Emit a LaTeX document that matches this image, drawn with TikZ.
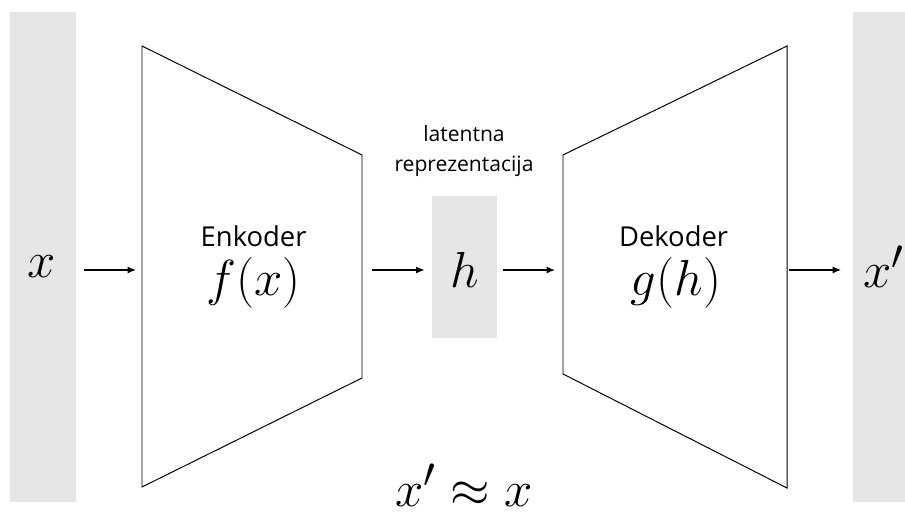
\documentclass[tikz,border=0pt]{standalone}
\usepackage{fontspec}
\setmainfont{Open Sans}
\usetikzlibrary{arrows.meta}
\definecolor{bargray}{HTML}{E6E6E6}
\tikzset{
  databar/.style={fill=bargray, draw=none},
  coder/.style={draw=black, line width=0.7pt, line join=miter},
  flow/.style={draw=black, line width=0.9pt, -{Latex[length=6pt,width=5pt]}},
  coderlabel/.style={font=\fontsize{19.5}{23}\selectfont},
  mathlabel/.style={font=\Huge, scale=1.45},
  latentlabel/.style={font=\fontsize{15}{22}\selectfont, align=center},
}

\begin{document}
\begin{tikzpicture}
\useasboundingbox (0,0) rectangle (22.625,12.875);
% input and output bars
\fill[databar] (0.25,0.325) rectangle (1.9,12.575);
\fill[databar] (21.325,0.325) rectangle (22.625,12.575);
\fill[databar] (10.8,4.425) rectangle (12.425,7.975);
% encoder and decoder
\draw[coder] (3.55,11.725) -- (9.05,9.0) -- (9.05,3.425) -- (3.55,0.7) -- cycle;
\draw[coder] (14.075,9.0) -- (19.675,11.725) -- (19.675,0.675) -- (14.075,3.525) -- cycle;
\coordinate (encin) at (3.55,6.125);
\coordinate (encout) at (9.05,6.125);
\coordinate (decin) at (14.075,6.125);
\coordinate (decout) at (19.675,6.125);
% labels
\node[mathlabel] (x) at (1.05,6.21) {$x$};
\node[mathlabel] (xp) at (22.1,6.21) {$x'$};
\node[mathlabel, inner sep=0pt, minimum width=1.12cm] (h) at (11.6125,6.125) {$h$};
\node[latentlabel] (lat) at (11.6,9.1) {latentna\\reprezentacija};
\node[coderlabel] (enc) at (6.34,6.96) {Enkoder};
\node[mathlabel] (f) at (6.34,5.81) {$f(x)$};
\node[coderlabel] (dec) at (16.84,6.96) {Dekoder};
\node[mathlabel] (g) at (16.9,5.81) {$g(h)$};
\node[mathlabel, inner sep=0pt, anchor=base] (approx) at (11.6,0.22) {$x'\approx x$};
% arrows
\draw[flow] (2.1,6.125) -- ([xshift=-0.15cm]encin);
\draw[flow] ([xshift=0.25cm]encout) -- ([xshift=-0.175cm]h.west);
\draw[flow] ([xshift=0.15cm]h.east) -- ([xshift=-0.2cm]decin);
\draw[flow] ([xshift=0.05cm]decout) -- (21.025,6.125);
\end{tikzpicture}
\end{document}
